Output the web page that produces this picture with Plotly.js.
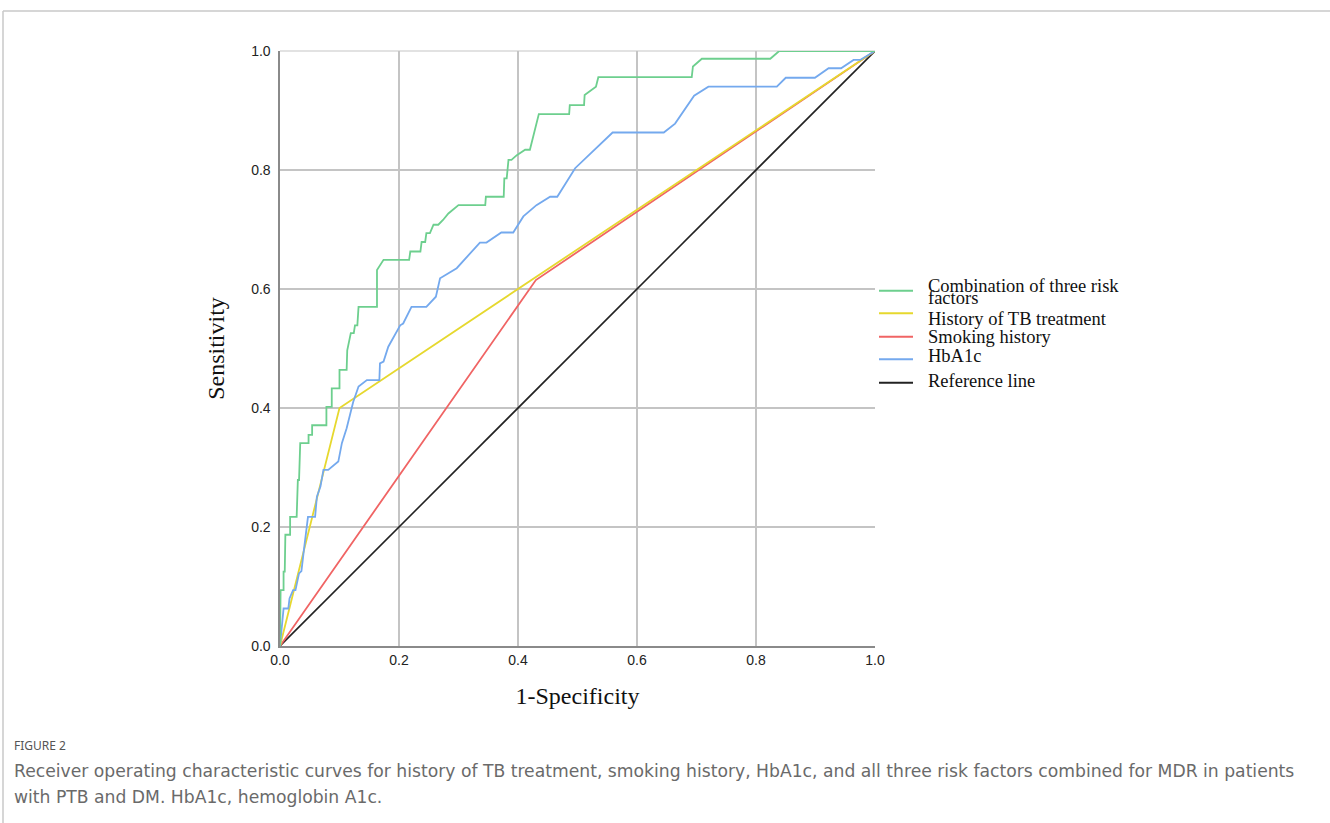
<!DOCTYPE html>
<html>
<head>
<meta charset="utf-8">
<script src="https://cdn.plot.ly/plotly-3.0.1.min.js"></script>
<style>
html,body{margin:0;padding:0;background:#fff;}
#chart{width:1330px;height:823px;}
</style>
</head>
<body>
<div id="chart"></div>
<script>
// ---- Data ----
const seriesNames = ["Combination of three risk factors", "History of TB treatment", "Smoking history", "HbA1c", "Reference line"];

const comboX = [0,0.001,0.006,0.006,0.008,0.009,0.017,0.017,0.028,0.030,0.032,0.034,0.048,0.048,0.054,0.054,0.078,0.078,0.087,0.087,0.100,0.100,0.112,0.113,0.119,0.124,0.126,0.130,0.132,0.163,0.163,0.174,0.217,0.219,0.236,0.238,0.244,0.246,0.252,0.258,0.266,0.274,0.283,0.300,0.345,0.346,0.376,0.377,0.381,0.384,0.389,0.398,0.412,0.420,0.435,0.486,0.487,0.511,0.512,0.521,0.531,0.535,0.692,0.694,0.709,0.824,0.839,1.0];
const comboY = [0,0.094,0.094,0.125,0.125,0.187,0.187,0.217,0.217,0.279,0.279,0.341,0.341,0.355,0.355,0.371,0.371,0.402,0.402,0.433,0.433,0.464,0.464,0.497,0.526,0.526,0.539,0.539,0.570,0.570,0.632,0.649,0.649,0.663,0.663,0.679,0.679,0.694,0.694,0.708,0.708,0.716,0.727,0.741,0.741,0.755,0.755,0.786,0.786,0.817,0.817,0.825,0.834,0.834,0.894,0.894,0.909,0.909,0.926,0.932,0.940,0.956,0.956,0.974,0.987,0.987,1.0,1.0];

const tbX = [0, 0.100, 1.0];
const tbY = [0, 0.400, 1.0];

const smokeX = [0, 0.430, 1.0];
const smokeY = [0, 0.615, 1.0];

const hbX = [0,0.004,0.006,0.014,0.016,0.022,0.026,0.032,0.036,0.040,0.045,0.047,0.059,0.062,0.068,0.073,0.081,0.098,0.104,0.112,0.123,0.132,0.146,0.167,0.168,0.174,0.182,0.202,0.207,0.221,0.246,0.262,0.269,0.297,0.336,0.347,0.372,0.392,0.409,0.431,0.454,0.466,0.496,0.559,0.645,0.664,0.696,0.720,0.835,0.850,0.899,0.922,0.943,0.964,0.975,1.0];
const hbY = [0,0.047,0.063,0.063,0.080,0.094,0.094,0.122,0.126,0.160,0.200,0.217,0.217,0.251,0.268,0.296,0.296,0.310,0.341,0.366,0.410,0.436,0.447,0.447,0.475,0.478,0.503,0.539,0.542,0.570,0.570,0.587,0.618,0.635,0.678,0.678,0.695,0.695,0.722,0.741,0.755,0.755,0.803,0.863,0.863,0.878,0.925,0.940,0.940,0.955,0.955,0.971,0.971,0.985,0.985,1.0];

const refX = [0, 1];
const refY = [0, 1];

const tickVals = [0, 0.2, 0.4, 0.6, 0.8, 1.0];
const tickText = ["0.0", "0.2", "0.4", "0.6", "0.8", "1.0"];

const captionLabel = "FIGURE 2";
const captionLine1 = "Receiver operating characteristic curves for history of TB treatment, smoking history, HbA1c, and all three risk factors combined for MDR in patients";
const captionLine2 = "with PTB and DM. HbA1c, hemoglobin A1c.";

// ---- Styling ----
const colors = ["#6dcf8e", "#e6d82e", "#f06464", "#74a9ee", "#222222"];

// plot area: x 280..875 px, y 51..646 px
const L = 280, R = 875, T = 51, B = 646, W = 1330, H = 823;
const PW = R - L, PH = B - T;
const X = px => (px - L) / PW;
const Y = py => (B - py) / PH;

const xs = [comboX, tbX, smokeX, hbX, refX];
const ys = [comboY, tbY, smokeY, hbY, refY];
const order = [4, 2, 1, 3, 0];
const traces = order.map(i => ({
  x: xs[i], y: ys[i], type: "scatter", mode: "lines", name: seriesNames[i],
  line: {color: colors[i], width: i === 4 ? 1.6 : 1.8},
  hoverinfo: "skip", showlegend: false, cliponaxis: false
}));

const serif = "'Liberation Serif', 'Times New Roman', serif";
const shapes = [];
const annotations = [];

// frame of the figure card
shapes.push({type: "line", xref: "paper", yref: "paper", x0: X(3), x1: X(1330), y0: Y(11), y1: Y(11), line: {color: "#c8c8c8", width: 1.5}});
shapes.push({type: "line", xref: "paper", yref: "paper", x0: X(3), x1: X(3), y0: Y(11), y1: Y(823), line: {color: "#c8c8c8", width: 1.5}});
// top border of plot area (under the curves)
shapes.push({type: "line", xref: "paper", yref: "paper", layer: "below", x0: 0, x1: 1, y0: 1, y1: 1, line: {color: "#e2e2e2", width: 2}});

// manual legend
const legendRows = [
  {line: 290.7, texts: [["Combination of three risk", 285.5], ["factors", 298]]},
  {line: 313.3, texts: [["History of TB treatment", 318.5]]},
  {line: 336.7, texts: [["Smoking history", 337]]},
  {line: 359.3, texts: [["HbA1c", 355.5]]},
  {line: 382.7, texts: [["Reference line", 380.5]]}
];
legendRows.forEach((row, k) => {
  shapes.push({type: "line", xref: "paper", yref: "paper", x0: X(879), x1: X(913), y0: Y(row.line), y1: Y(row.line),
    line: {color: colors[k], width: 2}});
  row.texts.forEach(t => {
    annotations.push({xref: "paper", yref: "paper", x: X(926), y: Y(t[1]), xanchor: "left", yanchor: "middle",
      text: t[0], showarrow: false, font: {family: serif, size: 18.5, color: "#111"}});
  });
});

// caption
const capFont = "'DejaVu Sans', 'Noto Sans', sans-serif";
annotations.push({xref: "paper", yref: "paper", x: X(12), y: Y(745), xanchor: "left", yanchor: "middle",
  text: captionLabel, showarrow: false, font: {family: "'Noto Sans', sans-serif", size: 12, color: "#555"}});
annotations.push({xref: "paper", yref: "paper", x: X(12), y: Y(771), xanchor: "left", yanchor: "middle",
  text: captionLine1, showarrow: false, font: {family: capFont, size: 17.2, color: "#6a6a6a"}});
annotations.push({xref: "paper", yref: "paper", x: X(12), y: Y(797), xanchor: "left", yanchor: "middle",
  text: captionLine2, showarrow: false, font: {family: capFont, size: 17.2, color: "#6a6a6a"}});

const axisCommon = {
  range: [0, 1], tickvals: tickVals, ticktext: tickText, showgrid: true,
  gridcolor: "#c4c4c4", gridwidth: 1.6, zeroline: false, showline: true,
  linecolor: "#8a8a8a", linewidth: 1.6, ticks: "", fixedrange: true,
  tickfont: {family: "'Liberation Sans', Arial, sans-serif", size: 14, color: "#222"}
};

const layout = {
  width: W, height: H,
  margin: {l: L, r: W - R, t: T, b: H - B, pad: 0},
  paper_bgcolor: "#fff", plot_bgcolor: "#fff",
  showlegend: false,
  xaxis: Object.assign({}, axisCommon, {
    title: {text: "1-Specificity", font: {family: serif, size: 24, color: "#111"}, standoff: 20},
    ticklabelstandoff: 1
  }),
  yaxis: Object.assign({}, axisCommon, {
    title: {text: "Sensitivity", font: {family: serif, size: 24, color: "#111"}, standoff: 20},
    ticklabelstandoff: 5
  }),
  shapes: shapes,
  annotations: annotations
};

Plotly.newPlot("chart", traces, layout, {displayModeBar: false, staticPlot: true});
</script>
</body>
</html>
